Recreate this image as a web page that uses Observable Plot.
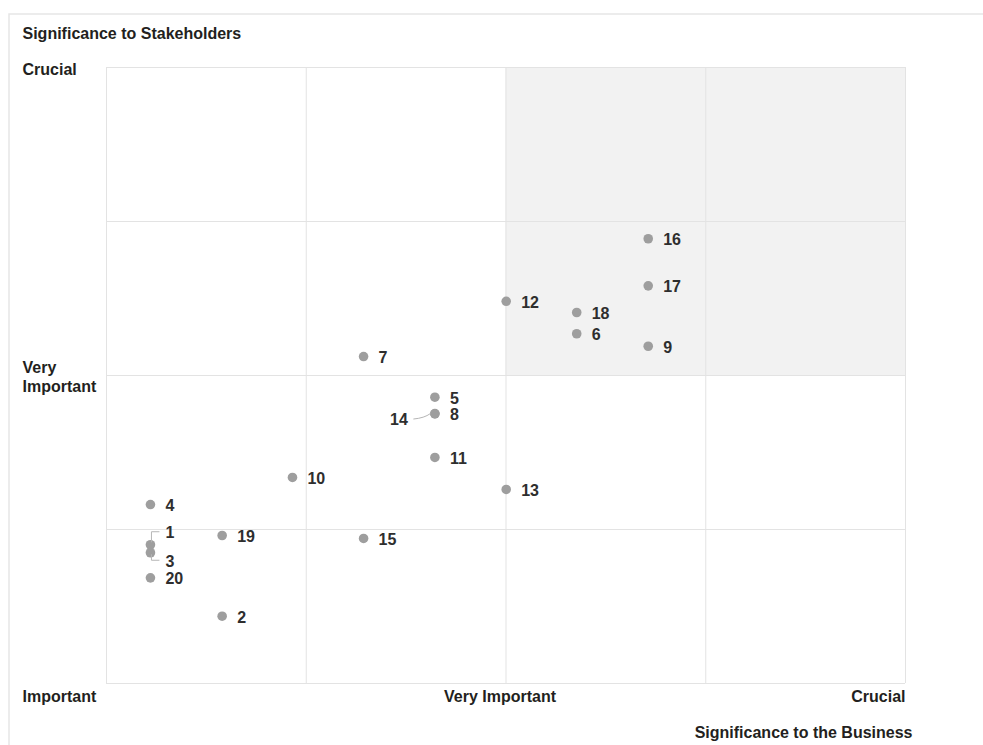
<!DOCTYPE html>
<html>
<head>
<meta charset="utf-8">
<script src="https://cdn.jsdelivr.net/npm/d3@7"></script>
<script src="https://cdn.jsdelivr.net/npm/@observablehq/plot@0.6"></script>
<style>
  html, body { margin: 0; padding: 0; background: #fff; }
</style>
</head>
<body>
<div id="chart"></div>
<script>
// ---- data ----
const ids = ["1","2","3","4","5","6","7","8","9","10","11","12","13","14","15","16","17","18","19","20"];
const business = [0.22, 0.579, 0.22, 0.22, 1.644, 2.354, 1.287, 1.644, 2.712, 0.931, 1.644, 2.001, 2.001, 1.644, 1.287, 2.712, 2.712, 2.354, 0.579, 0.22];
const stakeholders = [0.901, 0.437, 0.849, 1.162, 1.859, 2.271, 2.123, 1.751, 2.19, 1.338, 1.468, 2.482, 1.26, 1.753, 0.942, 2.888, 2.582, 2.409, 0.961, 0.686];
const levelLabels = ["Important", "Very Important", "Crucial"];
const levelValues = [0, 2, 4];
const gridValues = [0, 1, 2, 3, 4];
const shaded = [{x1: 2, x2: 4, y1: 2, y2: 4}];
const yTitle = "Significance to Stakeholders";
const xTitle = "Significance to the Business";

const points = ids.map((id, i) => ({id, x: business[i], y: stakeholders[i]}));
const special = new Set(["1", "3", "14"]);
const byId = Object.fromEntries(points.map(d => [d.id, d]));

const ink = "#231f20";
const labelInk = "#2e2e2e";
const plot = Plot.plot({
  width: 983,
  height: 745,
  marginLeft: 106,
  marginRight: 78,
  marginTop: 67,
  marginBottom: 62,
  x: {domain: [0, 4], axis: null},
  y: {domain: [0, 4], axis: null},
  style: {fontFamily: "'Liberation Sans', Arial, sans-serif", fontSize: "16px", background: "#fff", color: ink},
  marks: [
    Plot.rect(shaded, {x1: "x1", x2: "x2", y1: "y1", y2: "y2", fill: "#f2f2f2"}),
    Plot.ruleX(gridValues, {stroke: "#e3e3e3", strokeWidth: 1}),
    Plot.ruleY(gridValues, {stroke: "#e3e3e3", strokeWidth: 1}),
    Plot.dot(points, {x: "x", y: "y", r: 4.8, fill: "#9e9e9e", stroke: null}),
    Plot.text(points.filter(d => !special.has(d.id)), {x: "x", y: "y", text: "id", dx: 15, dy: 1.5, textAnchor: "start", fontWeight: "bold", fill: labelInk}),
    Plot.text([byId["1"]], {x: "x", y: "y", text: "id", dx: 15, dy: -11.5, textAnchor: "start", fontWeight: "bold", fill: labelInk}),
    Plot.text([byId["3"]], {x: "x", y: "y", text: "id", dx: 15, dy: 9, textAnchor: "start", fontWeight: "bold", fill: labelInk}),
    Plot.text([byId["14"]], {x: "x", y: "y", text: "id", dx: -27, dy: 6.5, textAnchor: "end", fontWeight: "bold", fill: labelInk}),
    // y-axis level labels
    Plot.text([levelLabels[2]], {y: () => levelValues[2], text: d => d, frameAnchor: "left", dx: -84, dy: 2, textAnchor: "start", fontWeight: "bold", fill: ink}),
    Plot.text([levelLabels[1]], {y: () => levelValues[1], text: d => d.replace(" ", "\n"), frameAnchor: "left", dx: -84, dy: 1, lineHeight: 1.15, textAnchor: "start", fontWeight: "bold", fill: ink}),
    // x-axis level labels
    Plot.text([levelLabels[0]], {x: () => levelValues[0], text: d => d, frameAnchor: "bottom", dx: -84, dy: 18, textAnchor: "start", fontWeight: "bold", fill: ink}),
    Plot.text([levelLabels[1]], {x: () => levelValues[1], text: d => d, frameAnchor: "bottom", dx: -6, dy: 18, textAnchor: "middle", fontWeight: "bold", fill: ink}),
    Plot.text([levelLabels[2]], {x: () => levelValues[2], text: d => d, frameAnchor: "bottom", dx: 0, dy: 18, textAnchor: "end", fontWeight: "bold", fill: ink}),
    // titles
    Plot.text([yTitle], {text: d => d, frameAnchor: "top-left", dx: -84, dy: -40, textAnchor: "start", fontWeight: "bold", fill: ink}),
    Plot.text([xTitle], {text: d => d, frameAnchor: "bottom-right", dx: 7, dy: 54, textAnchor: "end", fontWeight: "bold", fill: ink})
  ]
});

document.getElementById("chart").appendChild(plot);

// connectors and outer frame, positioned through Plot's scales
const sx = plot.scale("x"), sy = plot.scale("y");
const svg = d3.select(plot);
const g = svg.append("g").attr("fill", "none").attr("stroke", "#b5b5b5").attr("stroke-width", 1);
{
  const p = byId["1"]; const X = sx.apply(p.x), Y = sy.apply(p.y);
  g.append("path").attr("d", `M${X + 1.5},${Y - 2}V${Y - 12.5}H${X + 9.5}`);
}
{
  const p = byId["3"]; const X = sx.apply(p.x), Y = sy.apply(p.y);
  g.append("path").attr("d", `M${X + 1.5},${Y + 2}V${Y + 8}H${X + 9.5}`);
}
{
  const p = byId["14"]; const X = sx.apply(p.x), Y = sy.apply(p.y);
  g.append("path").attr("d", `M${X - 21},${Y + 6} Q${X - 10},${Y + 5} ${X - 4},${Y + 0.5}`);
}
svg.append("path").attr("d", "M9,745V14H983").attr("fill", "none").attr("stroke", "#e6e6e6").attr("stroke-width", 1.5);
</script>
</body>
</html>
